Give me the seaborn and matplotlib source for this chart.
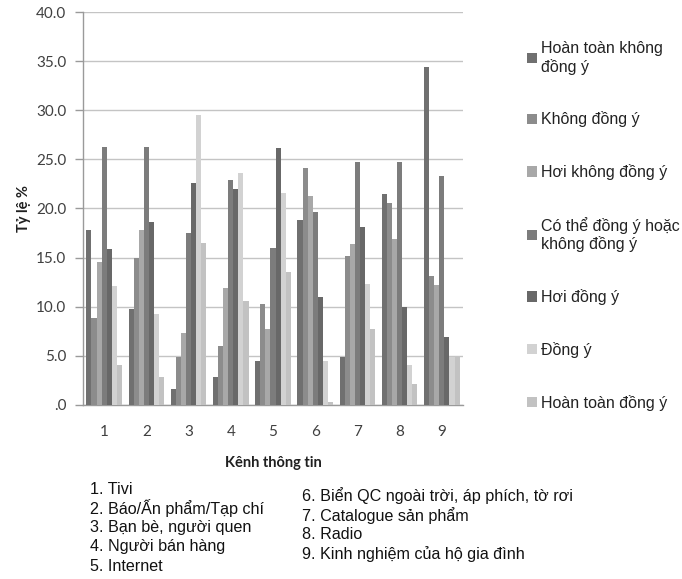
import matplotlib
matplotlib.use("Agg")
import matplotlib.pyplot as plt
import seaborn as sns
import pandas as pd

categories = ["1", "2", "3", "4", "5", "6", "7", "8", "9"]
series_names = ["Hoàn toàn không\nđồng ý", "Không đồng ý", "Hơi không đồng ý",
                "Có thể đồng ý hoặc\nkhông đồng ý", "Hơi đồng ý", "Đồng ý",
                "Hoàn toàn đồng ý"]
s1 = [17.8, 9.8, 1.6, 2.8, 4.5, 18.8, 4.9, 21.5, 34.4]
s2 = [8.9, 15.0, 4.9, 6.0, 10.3, 24.1, 15.2, 20.6, 13.1]
s3 = [14.6, 17.8, 7.3, 11.9, 7.7, 21.3, 16.4, 16.9, 12.2]
s4 = [26.3, 26.3, 17.5, 22.9, 16.0, 19.6, 24.7, 24.7, 23.3]
s5 = [15.9, 18.6, 22.6, 22.0, 26.2, 11.0, 18.1, 10.0, 6.9]
s6 = [12.1, 9.3, 29.5, 23.6, 21.6, 4.5, 12.3, 4.1, 4.9]
s7 = [4.1, 2.9, 16.5, 10.6, 13.5, 0.3, 7.7, 2.1, 4.9]
y_ticks = [0, 5, 10, 15, 20, 25, 30, 35, 40]
y_tick_labels = [".0", "5.0", "10.0", "15.0", "20.0", "25.0", "30.0", "35.0", "40.0"]
channel_notes_left = ["1. Tivi", "2. Báo/Ấn phẩm/Tạp chí", "3. Bạn bè, người quen",
                      "4. Người bán hàng", "5. Internet"]
channel_notes_right = ["6. Biển QC ngoài trời, áp phích, tờ rơi", "7. Catalogue sản phẩm",
                       "8. Radio", "9. Kinh nghiệm của hộ gia đình"]

colors = ["#707070", "#8c8c8c", "#a8a8a8", "#7c7c7c", "#686868", "#d2d2d2", "#c2c2c2"]

all_series = [s1, s2, s3, s4, s5, s6, s7]
rows = []
for name, vals in zip(series_names, all_series):
    for c, v in zip(categories, vals):
        rows.append({"Kênh": c, "Mức độ": name, "Tỷ lệ": v})
df = pd.DataFrame(rows)

sns.set_style("white")
plt.rcParams["font.family"] = ["Liberation Sans", "DejaVu Sans"]

fig = plt.figure(figsize=(6.82, 5.79), dpi=100)
ax = fig.add_axes([83 / 682, 1 - 405 / 579, 380 / 682, 393 / 579])

sns.barplot(data=df, x="Kênh", y="Tỷ lệ", hue="Mức độ", hue_order=series_names,
            order=categories, palette=colors, width=0.84, linewidth=0,
            saturation=1, ax=ax, legend=True, zorder=3)

ax.set_ylim(0, 40)
ax.set_yticks(y_ticks)
ax.set_yticklabels(y_tick_labels)
ax.yaxis.grid(True, color="#c4c4c4", linewidth=1.0, zorder=0)
ax.set_axisbelow(True)
for sp in ["top", "right"]:
    ax.spines[sp].set_visible(False)
for sp in ["left", "bottom"]:
    ax.spines[sp].set_color("#9a9a9a")
    ax.spines[sp].set_linewidth(1.0)

tick_font = ["Lato", "DejaVu Sans"]
ax.tick_params(axis="y", which="major", left=True, length=6, width=1, color="#9a9a9a",
               labelsize=11, labelcolor="#404040", pad=6)
ax.tick_params(axis="x", bottom=False, labelsize=11, labelcolor="#404040", pad=11)
for lbl in ax.get_yticklabels() + ax.get_xticklabels():
    lbl.set_family(tick_font)

ax.set_xlabel("Kênh thông tin", fontsize=10.5, fontweight="bold", family=tick_font,
              labelpad=12, color="#202020")
ax.set_ylabel("Tỷ lệ %", fontsize=10.5, fontweight="bold", family=tick_font,
              labelpad=4, color="#202020")

handles, labels = ax.get_legend_handles_labels()
ax.legend_.remove()
fig.legend(handles, labels, loc="upper left", bbox_to_anchor=(527 / 682, 1 - 41 / 579),
           frameon=False, fontsize=11.5, handlelength=0.6, handleheight=0.6,
           handletextpad=0.3, labelspacing=2.3, borderaxespad=0, borderpad=0,
           labelcolor="#222222")

for i, t in enumerate(channel_notes_left):
    fig.text(90 / 682, 1 - (489 + 19.3 * i) / 579, t, fontsize=11.6, color="#111111",
             va="center", ha="left")
for i, t in enumerate(channel_notes_right):
    fig.text(302 / 682, 1 - (496 + 19.3 * i) / 579, t, fontsize=11.6, color="#111111",
             va="center", ha="left")

fig.savefig("out.png", dpi=100, facecolor="white")
